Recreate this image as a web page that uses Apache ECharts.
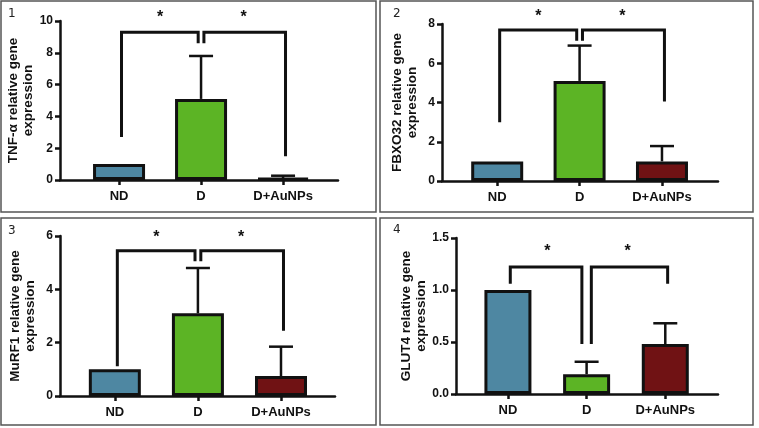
<!DOCTYPE html>
<html>
<head>
<meta charset="utf-8">
<script src="https://cdn.jsdelivr.net/npm/echarts@6/dist/echarts.min.js"></script>
<style>
  html, body { margin: 0; padding: 0; background: #fff; }
  #chart { width: 759px; height: 428px; }
</style>
</head>
<body>
<div id="chart"></div>
<script>
// groups and colours
var categories = ['ND', 'D', 'D+AuNPs'];
var barColors = ['#4e87a2', '#5cb425', '#701214'];

// panel 1..4
var panelNames = ['1', '2', '3', '4'];
var yTitles = [
  'TNF-α relative gene\nexpression',
  'FBXO32 relative gene\nexpression',
  'MuRF1 relative gene\nexpression',
  'GLUT4 relative gene\nexpression'
];

// mean and SD
var tnfMean = [1.0, 5.1, 0.12];
var tnfSd = [0, 2.7, 0.15];
var fbxoMean = [1.0, 5.1, 1.0];
var fbxoSd = [0, 1.8, 0.78];
var murfMean = [1.0, 3.1, 0.75];
var murfSd = [0, 1.7, 1.1];
var glutMean = [1.0, 0.19, 0.48];
var glutSd = [0, 0.12, 0.2];

// significance brackets: [start, top, end] for ND-D then D-D+AuNPs
var tnfBrackets = [[2.7, 9.3, 8.6], [8.6, 9.3, 1.5]];
var fbxoBrackets = [[3.0, 7.7, 7.15], [7.15, 7.7, 4.05]];
var murfBrackets = [[1.12, 5.45, 5.05], [5.05, 5.45, 2.45]];
var glutBrackets = [[1.06, 1.22, 0.48], [0.48, 1.22, 1.06]];
var starLevels = [10.2, 8.4, 5.95, 1.37];

// y axis ticks
var yMax = [10, 8, 6, 1.5];
var yStep = [2, 2, 2, 0.5];

var means = [tnfMean, fbxoMean, murfMean, glutMean];
var sds = [tnfSd, fbxoSd, murfSd, glutSd];
var brackets = [tnfBrackets, fbxoBrackets, murfBrackets, glutBrackets];

var layout = [
  { left: 60, top: 21, width: 278, height: 159, xMin: -0.72, xMax: 2.67, gap: 0.035, bar: 52, box: [1, 1, 375, 211], num: [8, 14] },
  { left: 442, top: 24, width: 276, height: 157, xMin: -0.67, xMax: 2.68, gap: 0.035, bar: 52, box: [380, 1, 373, 211], num: [393, 14] },
  { left: 60, top: 236, width: 275, height: 160, xMin: -0.66, xMax: 2.65, gap: 0.035, bar: 52, box: [1, 218, 375, 207], num: [8, 231] },
  { left: 456, top: 238, width: 262, height: 156, xMin: -0.66, xMax: 2.67, gap: 0.06, bar: 47, box: [380, 218, 373, 207], num: [393, 230] }
];

var ink = '#111';
var font = 'Liberation Sans, Arial, sans-serif';

var chart = echarts.init(document.getElementById('chart'), null, { renderer: 'canvas' });

var grids = [], xAxes = [], yAxes = [], series = [], graphics = [];

layout.forEach(function (L, i) {
  grids.push({ left: L.left, top: L.top, width: L.width, height: L.height, containLabel: false });

  xAxes.push({
    type: 'value', gridIndex: i, min: L.xMin, max: L.xMax,
    splitLine: { show: false },
    axisLine: { show: true, onZero: false, lineStyle: { color: ink, width: 2.5 } },
    axisTick: { show: true, customValues: [0, 1, 2], length: 5, lineStyle: { color: ink, width: 2.5 } },
    axisLabel: {
      customValues: [0, 1, 2], margin: 10,
      formatter: function (v) { return categories[Math.round(v)]; },
      color: ink, fontWeight: 'bold', fontSize: 13, fontFamily: font
    }
  });

  yAxes.push({
    type: 'value', gridIndex: i, min: 0, max: yMax[i], interval: yStep[i],
    splitLine: { show: false },
    axisLine: { show: true, onZero: false, lineStyle: { color: ink, width: 2.5 } },
    axisTick: { show: true, length: 5, lineStyle: { color: ink, width: 2.5 } },
    axisLabel: {
      margin: 7, color: ink, fontWeight: 'bold', fontSize: 12, fontFamily: font,
      formatter: function (v) { return i === 3 ? v.toFixed(1) : String(v); }
    },
    name: yTitles[i], nameLocation: 'middle', nameGap: 22,
    nameTextStyle: { color: ink, fontWeight: 'bold', fontSize: 13.5, lineHeight: 15, fontFamily: font }
  });

  series.push({
    type: 'bar', xAxisIndex: i, yAxisIndex: i, barWidth: L.bar, animation: false,
    itemStyle: { borderColor: ink, borderWidth: 3 },
    data: means[i].map(function (v, k) {
      return { value: [k, v], itemStyle: { color: barColors[k] } };
    })
  });

  series.push({
    type: 'custom', xAxisIndex: i, yAxisIndex: i, animation: false, z: 5,
    data: means[i].map(function (v, k) { return [k, v, sds[i][k]]; }),
    renderItem: function (params, api) {
      var s = api.value(2);
      if (!s) return null;
      var base = api.coord([api.value(0), api.value(1)]);
      var top = api.coord([api.value(0), api.value(1) + s]);
      var half = 12;
      return {
        type: 'group',
        children: [
          { type: 'line', shape: { x1: base[0], y1: base[1], x2: top[0], y2: top[1] }, style: { stroke: ink, lineWidth: 2.5 } },
          { type: 'line', shape: { x1: top[0] - half, y1: top[1], x2: top[0] + half, y2: top[1] }, style: { stroke: ink, lineWidth: 2.5 } }
        ]
      };
    }
  });

  var b = brackets[i];
  var spans = [[0.03, 1 - L.gap], [1 + L.gap, 2.03]];
  spans.forEach(function (sp, j) {
    series.push({
      type: 'line', xAxisIndex: i, yAxisIndex: i, animation: false, symbol: 'none', clip: false,
      lineStyle: { color: ink, width: 3, join: 'miter' },
      data: [[sp[0], b[j][0]], [sp[0], b[j][1]], [sp[1], b[j][1]], [sp[1], b[j][2]]]
    });
  });

  series.push({
    type: 'custom', xAxisIndex: i, yAxisIndex: i, animation: false, z: 6,
    data: [[0.5, starLevels[i]], [1.52, starLevels[i]]],
    renderItem: function (params, api) {
      var p = api.coord([api.value(0), api.value(1)]);
      return {
        type: 'text', x: p[0], y: p[1],
        style: { text: '*', fill: ink, font: 'bold 16px ' + font, textAlign: 'center', textVerticalAlign: 'middle' }
      };
    }
  });

  graphics.push({
    type: 'rect', shape: { x: L.box[0], y: L.box[1], width: L.box[2], height: L.box[3] },
    style: { fill: null, stroke: '#555', lineWidth: 1.5 }
  });
  graphics.push({
    type: 'text', x: L.num[0], y: L.num[1],
    style: { text: panelNames[i], fill: '#222', font: '12px DejaVu Sans, sans-serif', textVerticalAlign: 'middle' }
  });
});

chart.setOption({
  animation: false,
  backgroundColor: '#fff',
  grid: grids,
  xAxis: xAxes,
  yAxis: yAxes,
  series: series,
  graphic: graphics
});
</script>
</body>
</html>
